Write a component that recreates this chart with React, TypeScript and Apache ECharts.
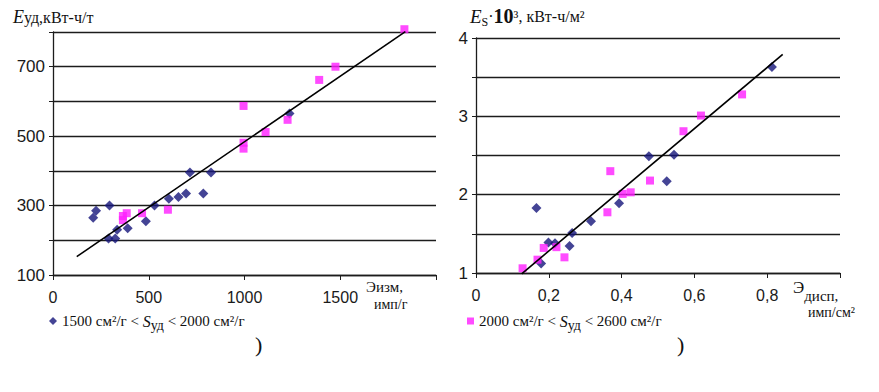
import React, { useEffect, useRef } from "react";
import * as echarts from "echarts";

// Left chart (E_уд vs Э_изм)
const leftBlueX = [210, 225, 295, 290, 325, 335, 390, 485, 530, 605, 655, 695, 715, 785, 825, 1235];
const leftBlueY = [265, 285, 300, 205, 205, 230, 235, 255, 300, 320, 325, 335, 395, 335, 395, 565];
const leftMagX = [365, 385, 365, 465, 600, 995, 995, 995, 1110, 1225, 1390, 1475, 1835];
const leftMagY = [270, 278, 258, 278, 288, 587, 481, 464, 512, 547, 662, 700, 808];
const leftTrendX = [124, 1840];
const leftTrendY = [153, 801];

// Right chart (E_s·10^3 vs Э_дисп)
const rightBlueX = [0.166, 0.179, 0.199, 0.217, 0.257, 0.264, 0.316, 0.393, 0.475, 0.524, 0.544, 0.813];
const rightBlueY = [1.83, 1.12, 1.39, 1.38, 1.345, 1.51, 1.66, 1.89, 2.49, 2.17, 2.51, 3.63];
const rightMagX = [0.128, 0.169, 0.186, 0.221, 0.243, 0.361, 0.369, 0.403, 0.425, 0.478, 0.57, 0.618, 0.731];
const rightMagY = [1.06, 1.17, 1.32, 1.33, 1.2, 1.775, 2.3, 2.01, 2.03, 2.18, 2.81, 3.01, 3.28];
const rightTrendX = [0.1255, 0.8426];
const rightTrendY = [0.99, 3.79];

const leftYLabels = [100, 300, 500, 700];
const leftXLabels = [0, 500, 1000, 1500];
const rightYLabels = [1, 2, 3, 4];
const rightXLabels = [0, 0.2, 0.4, 0.6, 0.8];

const NAME1 = "1500 см²/г < Sуд < 2000 см²/г";
const NAME2 = "2000 см²/г < Sуд < 2600 см²/г";

const zip = (xs: number[], ys: number[]) => xs.map((x, i) => [x, ys[i]]);

const BLUE = "#15157a";
const MAGENTA = "#ff1eff";
const GRID = "#1c1c1c";
const SANS = "Liberation Sans, Arial, sans-serif";
const SERIF = "Liberation Serif, Times New Roman, serif";

export default function App() {
  const ref = useRef<HTMLDivElement>(null);
  useEffect(() => {
    if (!ref.current) return;
    const chart = echarts.init(ref.current, undefined, { renderer: "svg" });
    const axisLine = { show: true, lineStyle: { color: GRID, width: 1.3 } };
    const splitLine = { show: true, lineStyle: { color: GRID, width: 1.3 } };
    const labelStyle = { color: "#1a1a1a", fontFamily: SANS, fontSize: 16 };
    const legendRich = {
      a: { fontFamily: SERIF, fontSize: 15, color: "#111", lineHeight: 22, verticalAlign: "middle" },
      i: { fontFamily: SERIF, fontStyle: "italic", fontSize: 16, color: "#111", lineHeight: 22, verticalAlign: "middle" },
      sub: { fontFamily: SERIF, fontSize: 14, color: "#111", lineHeight: 22, verticalAlign: "bottom" },
    };
    const option: any = {
      animation: false,
      backgroundColor: "#ffffff",
      grid: [
        { left: 53, top: 32, width: 383, height: 243 },
        { left: 476, top: 38, width: 364, height: 235 },
      ],
      xAxis: [
        {
          type: "value", gridIndex: 0, min: 0, max: 2000, interval: 500,
          axisLine, axisTick: { show: true, length: 5, lineStyle: { color: GRID } },
          splitLine: { show: false },
          axisLabel: {
            ...labelStyle, margin: 14,
            formatter: (v: number) => (leftXLabels.includes(v) ? String(v) : ""),
          },
        },
        {
          type: "value", gridIndex: 1, min: 0, max: 1, interval: 0.2,
          axisLine, axisTick: { show: true, length: 5, lineStyle: { color: GRID } },
          splitLine: { show: false },
          axisLabel: {
            ...labelStyle, margin: 14,
            formatter: (v: number) => {
              const m = rightXLabels.find((t) => Math.abs(t - v) < 1e-6);
              if (m === undefined) return "";
              return m === 0 ? "0" : String(m).replace(".", ",");
            },
          },
        },
      ],
      yAxis: [
        {
          type: "value", gridIndex: 0, min: 100, max: 800, interval: 100,
          axisLine, axisTick: { show: true, length: 4, lineStyle: { color: GRID } },
          splitLine,
          axisLabel: {
            ...labelStyle, fontSize: 17, margin: 8,
            formatter: (v: number) => (leftYLabels.includes(v) ? String(v) : ""),
          },
        },
        {
          type: "value", gridIndex: 1, min: 1, max: 4, interval: 0.5,
          axisLine, axisTick: { show: true, length: 4, lineStyle: { color: GRID } },
          splitLine,
          axisLabel: {
            ...labelStyle, fontSize: 17, margin: 8,
            formatter: (v: number) => (rightYLabels.includes(v) ? String(v) : ""),
          },
        },
      ],
      legend: [
        {
          data: [{ name: NAME1, icon: "diamond" }],
          left: 44, top: 308, itemWidth: 8, itemHeight: 8, itemGap: 4,
          selectedMode: false,
          formatter: () => "{a|1500 см²/г < }{i|S}{sub|уд}{a| < 2000 см²/г}",
          textStyle: { rich: legendRich },
        },
        {
          data: [{ name: NAME2, icon: "rect" }],
          left: 462, top: 308, itemWidth: 7, itemHeight: 7, itemGap: 4,
          selectedMode: false,
          formatter: () => "{a|2000 см²/г < }{i|S}{sub|уд}{a| < 2600 см²/г}",
          textStyle: { rich: legendRich },
        },
      ],
      graphic: [
        {
          type: "text", left: 13, top: 8,
          style: {
            text: "{i|E}{n|уд,кВт-ч/т}",
            rich: {
              i: { fontFamily: SERIF, fontStyle: "italic", fontSize: 18, fill: "#111", lineHeight: 22, verticalAlign: "middle" },
              n: { fontFamily: SERIF, fontSize: 16, fill: "#111", lineHeight: 22, verticalAlign: "middle" },
            },
          },
        },
        {
          type: "text", left: 470, top: 6,
          style: {
            text: "{i|E}{s|S}{n|·}{b|10}{n|³, кВт-ч/м²}",
            rich: {
              i: { fontFamily: SERIF, fontStyle: "italic", fontSize: 19, fill: "#111", lineHeight: 24, verticalAlign: "middle" },
              s: { fontFamily: SERIF, fontSize: 12, fill: "#111", lineHeight: 24, verticalAlign: "bottom" },
              n: { fontFamily: SERIF, fontSize: 16, fill: "#111", lineHeight: 24, verticalAlign: "middle" },
              b: { fontFamily: SERIF, fontWeight: "bold", fontSize: 20, fill: "#111", lineHeight: 24, verticalAlign: "middle" },
            },
          },
        },
        {
          type: "text", left: 366, top: 279,
          style: { text: "Эизм,", fontFamily: SERIF, fontSize: 15, fill: "#111" },
        },
        {
          type: "text", left: 374, top: 297,
          style: { text: "имп/г", fontFamily: SERIF, fontSize: 14, fill: "#111" },
        },
        {
          type: "text", left: 793, top: 279,
          style: {
            text: "{e|Э}{d|дисп,}",
            rich: {
              e: { fontFamily: SERIF, fontSize: 17, fill: "#111", lineHeight: 24, verticalAlign: "top" },
              d: { fontFamily: SERIF, fontSize: 15, fill: "#111", lineHeight: 24, verticalAlign: "bottom" },
            },
          },
        },
        {
          type: "text", left: 808, top: 305,
          style: { text: "имп/см²", fontFamily: SERIF, fontSize: 14, fill: "#111" },
        },
        {
          type: "text", left: 255, top: 333,
          style: { text: ")", fontFamily: SERIF, fontSize: 22, fill: "#111" },
        },
        {
          type: "text", left: 677, top: 333,
          style: { text: ")", fontFamily: SERIF, fontSize: 22, fill: "#111" },
        },
      ],
      series: [
        {
          name: NAME1, type: "scatter", xAxisIndex: 0, yAxisIndex: 0, clip: false,
          symbol: "diamond", symbolSize: 10, itemStyle: { color: BLUE },
          data: zip(leftBlueX, leftBlueY), z: 2,
        },
        {
          name: NAME2, type: "scatter", xAxisIndex: 0, yAxisIndex: 0, clip: false,
          symbol: "rect", symbolSize: 8, itemStyle: { color: MAGENTA },
          data: zip(leftMagX, leftMagY), z: 3,
        },
        {
          type: "line", xAxisIndex: 0, yAxisIndex: 0, clip: false, symbol: "none",
          lineStyle: { color: "#000", width: 1.6 }, data: zip(leftTrendX, leftTrendY), z: 4,
          silent: true,
        },
        {
          name: NAME1, type: "scatter", xAxisIndex: 1, yAxisIndex: 1, clip: false,
          symbol: "diamond", symbolSize: 10, itemStyle: { color: BLUE },
          data: zip(rightBlueX, rightBlueY), z: 2,
        },
        {
          name: NAME2, type: "scatter", xAxisIndex: 1, yAxisIndex: 1, clip: false,
          symbol: "rect", symbolSize: 8, itemStyle: { color: MAGENTA },
          data: zip(rightMagX, rightMagY), z: 3,
        },
        {
          type: "line", xAxisIndex: 1, yAxisIndex: 1, clip: false, symbol: "none",
          lineStyle: { color: "#000", width: 1.6 }, data: zip(rightTrendX, rightTrendY), z: 4,
          silent: true,
        },
      ],
    };
    chart.setOption(option);
    return () => chart.dispose();
  }, []);
  return (
    <div
      ref={ref}
      style={{ position: "fixed", left: 0, top: 0, width: 879, height: 392, background: "#fff" }}
    />
  );
}
